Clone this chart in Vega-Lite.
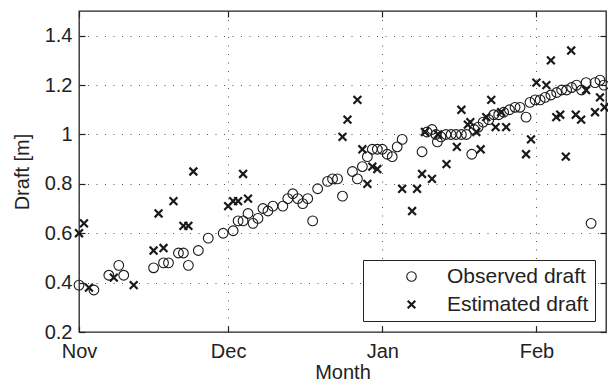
{
  "$schema": "https://vega.github.io/schema/vega-lite/v6.json",
  "width": 527,
  "height": 321,
  "autosize": {"type": "none"},
  "padding": {"left": 79, "top": 11, "right": 2, "bottom": 51},
  "background": "white",
  "config": {
    "font": "Liberation Sans",
    "view": {"stroke": "#222", "strokeWidth": 1.3},
    "axis": {
      "labelFont": "Liberation Sans",
      "labelFontSize": 20,
      "labelColor": "#222",
      "titleFont": "Liberation Sans",
      "titleFontSize": 20,
      "titleFontWeight": "normal",
      "titleColor": "#222",
      "domain": false,
      "tickColor": "#222",
      "tickSize": -6,
      "tickWidth": 1.2,
      "gridColor": "#555",
      "gridDash": [1, 7.5],
      "gridWidth": 1
    },
    "legend": {
      "labelFont": "Liberation Sans",
      "labelFontSize": 21,
      "labelColor": "#222"
    }
  },
  "data": {
    "values": [
      {"date": "2010-11-01T00:00", "draft": 0.39, "series": "Observed draft"},
      {"date": "2010-11-04T00:00", "draft": 0.37, "series": "Observed draft"},
      {"date": "2010-11-07T00:00", "draft": 0.43, "series": "Observed draft"},
      {"date": "2010-11-09T00:00", "draft": 0.47, "series": "Observed draft"},
      {"date": "2010-11-10T00:00", "draft": 0.43, "series": "Observed draft"},
      {"date": "2010-11-16T00:00", "draft": 0.46, "series": "Observed draft"},
      {"date": "2010-11-18T00:00", "draft": 0.48, "series": "Observed draft"},
      {"date": "2010-11-19T00:00", "draft": 0.48, "series": "Observed draft"},
      {"date": "2010-11-21T00:00", "draft": 0.52, "series": "Observed draft"},
      {"date": "2010-11-22T00:00", "draft": 0.52, "series": "Observed draft"},
      {"date": "2010-11-23T00:00", "draft": 0.47, "series": "Observed draft"},
      {"date": "2010-11-25T00:00", "draft": 0.53, "series": "Observed draft"},
      {"date": "2010-11-27T00:00", "draft": 0.58, "series": "Observed draft"},
      {"date": "2010-11-30T00:00", "draft": 0.60, "series": "Observed draft"},
      {"date": "2010-12-02T00:00", "draft": 0.61, "series": "Observed draft"},
      {"date": "2010-12-03T00:00", "draft": 0.65, "series": "Observed draft"},
      {"date": "2010-12-04T00:00", "draft": 0.65, "series": "Observed draft"},
      {"date": "2010-12-05T00:00", "draft": 0.68, "series": "Observed draft"},
      {"date": "2010-12-06T00:00", "draft": 0.64, "series": "Observed draft"},
      {"date": "2010-12-07T00:00", "draft": 0.66, "series": "Observed draft"},
      {"date": "2010-12-08T00:00", "draft": 0.70, "series": "Observed draft"},
      {"date": "2010-12-09T00:00", "draft": 0.69, "series": "Observed draft"},
      {"date": "2010-12-10T00:00", "draft": 0.71, "series": "Observed draft"},
      {"date": "2010-12-12T00:00", "draft": 0.71, "series": "Observed draft"},
      {"date": "2010-12-13T00:00", "draft": 0.74, "series": "Observed draft"},
      {"date": "2010-12-14T00:00", "draft": 0.76, "series": "Observed draft"},
      {"date": "2010-12-15T00:00", "draft": 0.74, "series": "Observed draft"},
      {"date": "2010-12-16T00:00", "draft": 0.72, "series": "Observed draft"},
      {"date": "2010-12-17T00:00", "draft": 0.74, "series": "Observed draft"},
      {"date": "2010-12-18T00:00", "draft": 0.65, "series": "Observed draft"},
      {"date": "2010-12-19T00:00", "draft": 0.78, "series": "Observed draft"},
      {"date": "2010-12-21T00:00", "draft": 0.81, "series": "Observed draft"},
      {"date": "2010-12-22T00:00", "draft": 0.82, "series": "Observed draft"},
      {"date": "2010-12-23T00:00", "draft": 0.82, "series": "Observed draft"},
      {"date": "2010-12-24T00:00", "draft": 0.75, "series": "Observed draft"},
      {"date": "2010-12-26T00:00", "draft": 0.85, "series": "Observed draft"},
      {"date": "2010-12-27T00:00", "draft": 0.82, "series": "Observed draft"},
      {"date": "2010-12-28T00:00", "draft": 0.87, "series": "Observed draft"},
      {"date": "2010-12-29T00:00", "draft": 0.91, "series": "Observed draft"},
      {"date": "2010-12-30T00:00", "draft": 0.94, "series": "Observed draft"},
      {"date": "2010-12-31T00:00", "draft": 0.94, "series": "Observed draft"},
      {"date": "2011-01-01T00:00", "draft": 0.94, "series": "Observed draft"},
      {"date": "2011-01-02T00:00", "draft": 0.92, "series": "Observed draft"},
      {"date": "2011-01-03T00:00", "draft": 0.91, "series": "Observed draft"},
      {"date": "2011-01-04T00:00", "draft": 0.95, "series": "Observed draft"},
      {"date": "2011-01-05T00:00", "draft": 0.98, "series": "Observed draft"},
      {"date": "2011-01-09T00:00", "draft": 0.93, "series": "Observed draft"},
      {"date": "2011-01-10T00:00", "draft": 1.01, "series": "Observed draft"},
      {"date": "2011-01-11T00:00", "draft": 1.02, "series": "Observed draft"},
      {"date": "2011-01-11T19:00", "draft": 1.00, "series": "Observed draft"},
      {"date": "2011-01-12T02:00", "draft": 0.97, "series": "Observed draft"},
      {"date": "2011-01-12T19:00", "draft": 0.99, "series": "Observed draft"},
      {"date": "2011-01-13T19:00", "draft": 1.00, "series": "Observed draft"},
      {"date": "2011-01-14T20:00", "draft": 1.00, "series": "Observed draft"},
      {"date": "2011-01-15T20:00", "draft": 1.00, "series": "Observed draft"},
      {"date": "2011-01-16T22:00", "draft": 1.00, "series": "Observed draft"},
      {"date": "2011-01-17T22:00", "draft": 1.00, "series": "Observed draft"},
      {"date": "2011-01-19T00:00", "draft": 0.92, "series": "Observed draft"},
      {"date": "2011-01-19T12:00", "draft": 1.02, "series": "Observed draft"},
      {"date": "2011-01-20T07:00", "draft": 1.03, "series": "Observed draft"},
      {"date": "2011-01-21T07:00", "draft": 1.05, "series": "Observed draft"},
      {"date": "2011-01-22T10:00", "draft": 1.06, "series": "Observed draft"},
      {"date": "2011-01-23T10:00", "draft": 1.08, "series": "Observed draft"},
      {"date": "2011-01-24T10:00", "draft": 1.08, "series": "Observed draft"},
      {"date": "2011-01-25T10:00", "draft": 1.09, "series": "Observed draft"},
      {"date": "2011-01-26T14:00", "draft": 1.10, "series": "Observed draft"},
      {"date": "2011-01-27T17:00", "draft": 1.11, "series": "Observed draft"},
      {"date": "2011-01-28T17:00", "draft": 1.11, "series": "Observed draft"},
      {"date": "2011-01-29T22:00", "draft": 1.07, "series": "Observed draft"},
      {"date": "2011-01-30T17:00", "draft": 1.13, "series": "Observed draft"},
      {"date": "2011-01-31T18:00", "draft": 1.14, "series": "Observed draft"},
      {"date": "2011-02-01T18:00", "draft": 1.14, "series": "Observed draft"},
      {"date": "2011-02-02T18:00", "draft": 1.15, "series": "Observed draft"},
      {"date": "2011-02-03T22:00", "draft": 1.16, "series": "Observed draft"},
      {"date": "2011-02-05T02:00", "draft": 1.17, "series": "Observed draft"},
      {"date": "2011-02-06T02:00", "draft": 1.18, "series": "Observed draft"},
      {"date": "2011-02-07T02:00", "draft": 1.18, "series": "Observed draft"},
      {"date": "2011-02-08T02:00", "draft": 1.19, "series": "Observed draft"},
      {"date": "2011-02-09T02:00", "draft": 1.20, "series": "Observed draft"},
      {"date": "2011-02-10T02:00", "draft": 1.18, "series": "Observed draft"},
      {"date": "2011-02-11T00:00", "draft": 1.21, "series": "Observed draft"},
      {"date": "2011-02-12T00:00", "draft": 0.64, "series": "Observed draft"},
      {"date": "2011-02-12T19:00", "draft": 1.21, "series": "Observed draft"},
      {"date": "2011-02-13T19:00", "draft": 1.22, "series": "Observed draft"},
      {"date": "2011-02-14T14:00", "draft": 1.20, "series": "Observed draft"},
      {"date": "2010-11-01T00:00", "draft": 0.60, "series": "Estimated draft"},
      {"date": "2010-11-02T00:00", "draft": 0.64, "series": "Estimated draft"},
      {"date": "2010-11-03T00:00", "draft": 0.38, "series": "Estimated draft"},
      {"date": "2010-11-08T00:00", "draft": 0.42, "series": "Estimated draft"},
      {"date": "2010-11-12T00:00", "draft": 0.39, "series": "Estimated draft"},
      {"date": "2010-11-16T00:00", "draft": 0.53, "series": "Estimated draft"},
      {"date": "2010-11-17T00:00", "draft": 0.68, "series": "Estimated draft"},
      {"date": "2010-11-18T00:00", "draft": 0.54, "series": "Estimated draft"},
      {"date": "2010-11-20T00:00", "draft": 0.73, "series": "Estimated draft"},
      {"date": "2010-11-22T00:00", "draft": 0.63, "series": "Estimated draft"},
      {"date": "2010-11-23T00:00", "draft": 0.63, "series": "Estimated draft"},
      {"date": "2010-11-24T00:00", "draft": 0.85, "series": "Estimated draft"},
      {"date": "2010-12-01T00:00", "draft": 0.71, "series": "Estimated draft"},
      {"date": "2010-12-02T00:00", "draft": 0.73, "series": "Estimated draft"},
      {"date": "2010-12-03T00:00", "draft": 0.73, "series": "Estimated draft"},
      {"date": "2010-12-04T00:00", "draft": 0.84, "series": "Estimated draft"},
      {"date": "2010-12-05T00:00", "draft": 0.74, "series": "Estimated draft"},
      {"date": "2010-12-24T00:00", "draft": 0.99, "series": "Estimated draft"},
      {"date": "2010-12-25T00:00", "draft": 1.06, "series": "Estimated draft"},
      {"date": "2010-12-27T00:00", "draft": 1.14, "series": "Estimated draft"},
      {"date": "2010-12-28T00:00", "draft": 0.94, "series": "Estimated draft"},
      {"date": "2010-12-29T00:00", "draft": 0.80, "series": "Estimated draft"},
      {"date": "2010-12-30T00:00", "draft": 0.87, "series": "Estimated draft"},
      {"date": "2010-12-31T00:00", "draft": 0.86, "series": "Estimated draft"},
      {"date": "2011-01-05T00:00", "draft": 0.78, "series": "Estimated draft"},
      {"date": "2011-01-07T00:00", "draft": 0.69, "series": "Estimated draft"},
      {"date": "2011-01-08T00:00", "draft": 0.78, "series": "Estimated draft"},
      {"date": "2011-01-09T00:00", "draft": 0.84, "series": "Estimated draft"},
      {"date": "2011-01-09T14:00", "draft": 1.01, "series": "Estimated draft"},
      {"date": "2011-01-11T00:00", "draft": 0.82, "series": "Estimated draft"},
      {"date": "2011-01-12T05:00", "draft": 1.00, "series": "Estimated draft"},
      {"date": "2011-01-13T22:00", "draft": 0.88, "series": "Estimated draft"},
      {"date": "2011-01-16T00:00", "draft": 0.95, "series": "Estimated draft"},
      {"date": "2011-01-16T22:00", "draft": 1.10, "series": "Estimated draft"},
      {"date": "2011-01-18T05:00", "draft": 1.04, "series": "Estimated draft"},
      {"date": "2011-01-18T17:00", "draft": 1.05, "series": "Estimated draft"},
      {"date": "2011-01-19T22:00", "draft": 1.01, "series": "Estimated draft"},
      {"date": "2011-01-20T19:00", "draft": 0.94, "series": "Estimated draft"},
      {"date": "2011-01-21T22:00", "draft": 1.07, "series": "Estimated draft"},
      {"date": "2011-01-22T22:00", "draft": 1.14, "series": "Estimated draft"},
      {"date": "2011-01-23T19:00", "draft": 1.03, "series": "Estimated draft"},
      {"date": "2011-01-24T22:00", "draft": 1.09, "series": "Estimated draft"},
      {"date": "2011-01-25T22:00", "draft": 1.03, "series": "Estimated draft"},
      {"date": "2011-01-29T22:00", "draft": 0.92, "series": "Estimated draft"},
      {"date": "2011-01-30T22:00", "draft": 0.98, "series": "Estimated draft"},
      {"date": "2011-02-01T00:00", "draft": 1.21, "series": "Estimated draft"},
      {"date": "2011-02-03T00:00", "draft": 1.20, "series": "Estimated draft"},
      {"date": "2011-02-03T22:00", "draft": 1.30, "series": "Estimated draft"},
      {"date": "2011-02-05T00:00", "draft": 1.07, "series": "Estimated draft"},
      {"date": "2011-02-05T19:00", "draft": 1.08, "series": "Estimated draft"},
      {"date": "2011-02-06T22:00", "draft": 0.91, "series": "Estimated draft"},
      {"date": "2011-02-08T00:00", "draft": 1.34, "series": "Estimated draft"},
      {"date": "2011-02-08T22:00", "draft": 1.08, "series": "Estimated draft"},
      {"date": "2011-02-10T00:00", "draft": 1.06, "series": "Estimated draft"},
      {"date": "2011-02-11T00:00", "draft": 1.18, "series": "Estimated draft"},
      {"date": "2011-02-12T19:00", "draft": 1.09, "series": "Estimated draft"},
      {"date": "2011-02-13T19:00", "draft": 1.15, "series": "Estimated draft"},
      {"date": "2011-02-14T17:00", "draft": 1.11, "series": "Estimated draft"}
    ]
  },
  "layer": [
    {
      "mark": {"type": "point", "filled": false, "color": "#1a1a1a", "opacity": 1, "size": 95},
      "encoding": {
        "x": {
          "field": "date",
          "type": "temporal",
          "title": "Month",
          "scale": {"domain": [{"year": 2010, "month": 11, "date": 1}, {"year": 2011, "month": 2, "date": 15}]},
          "axis": {
            "values": [
              {"year": 2010, "month": 11, "date": 1},
              {"year": 2010, "month": 12, "date": 1},
              {"year": 2011, "month": 1, "date": 1},
              {"year": 2011, "month": 2, "date": 1}
            ],
            "format": "%b",
            "labelFlush": false,
            "labelPadding": 15,
            "titlePadding": 1,
            "grid": true
          }
        },
        "y": {
          "field": "draft",
          "type": "quantitative",
          "title": "Draft [m]",
          "scale": {"domain": [0.2, 1.5], "nice": false, "zero": false},
          "axis": {
            "values": [0.2, 0.4, 0.6, 0.8, 1.0, 1.2, 1.4],
            "format": "~g",
            "labelPadding": 13,
            "titlePadding": 12,
            "grid": true
          }
        },
        "shape": {
          "field": "series",
          "type": "nominal",
          "title": null,
          "scale": {
            "domain": ["Observed draft", "Estimated draft"],
            "range": ["circle", "M-0.8,-0.8L0.8,0.8M-0.8,0.8L0.8,-0.8"]
          },
          "legend": {
            "orient": "bottom-right",
            "offset": 11,
            "padding": 6,
            "strokeColor": "#222",
            "fillColor": "white",
            "symbolOffset": 32,
            "labelOffset": 25,
            "rowPadding": 6,
            "symbolSize": 90,
            "symbolStrokeColor": "#1a1a1a"
          }
        },
        "strokeWidth": {
          "field": "series",
          "type": "nominal",
          "title": null,
          "scale": {"domain": ["Observed draft", "Estimated draft"], "range": [1.1, 2.2]}
        }
      }
    },
    {
      "mark": {"type": "point", "opacity": 0},
      "encoding": {
        "x": {
          "field": "date",
          "type": "temporal",
          "axis": {
            "orient": "top",
            "values": [
              {"year": 2010, "month": 11, "date": 1},
              {"year": 2010, "month": 12, "date": 1},
              {"year": 2011, "month": 1, "date": 1},
              {"year": 2011, "month": 2, "date": 1}
            ],
            "labels": false,
            "title": null,
            "grid": false
          }
        },
        "y": {
          "field": "draft",
          "type": "quantitative",
          "axis": {
            "orient": "right",
            "values": [0.2, 0.4, 0.6, 0.8, 1.0, 1.2, 1.4],
            "labels": false,
            "title": null,
            "grid": false
          }
        }
      }
    }
  ],
  "resolve": {"axis": {"x": "independent", "y": "independent"}}
}
